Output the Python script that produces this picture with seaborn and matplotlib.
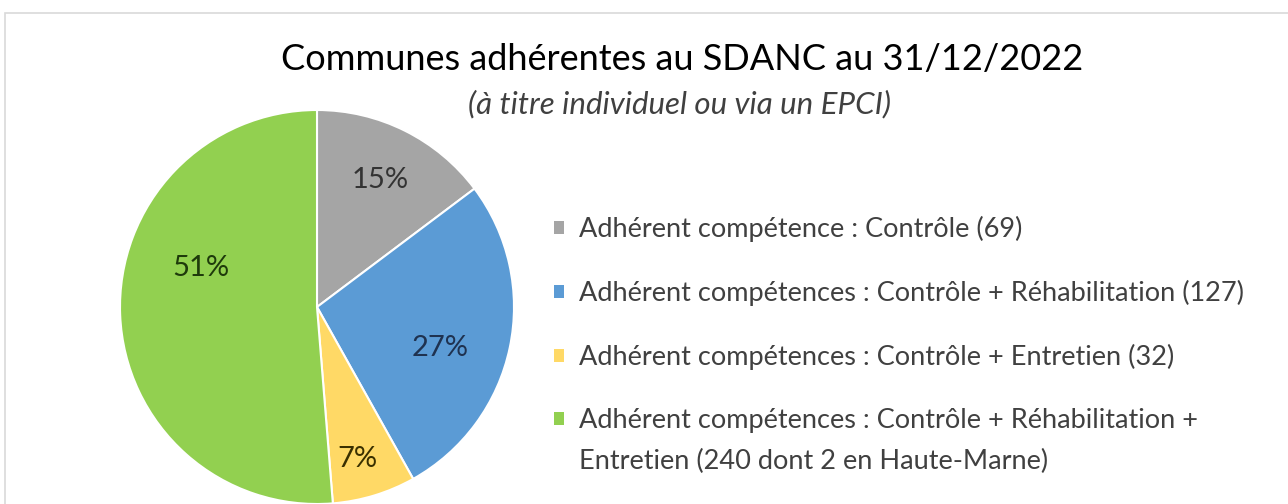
import matplotlib
matplotlib.use("Agg")
import matplotlib.pyplot as plt
import seaborn as sns
import numpy as np
from matplotlib.patches import Patch, Rectangle

sns.set_theme(style="white")
plt.rcParams['font.family'] = ['Lato', 'DejaVu Sans']

categories = [
    "Adhérent compétence : Contrôle (69)",
    "Adhérent compétences : Contrôle + Réhabilitation (127)",
    "Adhérent compétences : Contrôle + Entretien (32)",
    "Adhérent compétences : Contrôle + Réhabilitation +\nEntretien (240 dont 2 en Haute-Marne)",
]
values = [69, 127, 32, 240]
colors = ["#A5A5A5", "#5B9BD5", "#FFD966", "#92D050"]
label_colors = ["#333333", "#1F3250", "#3A3000", "#1E3A0B"]
label_dist = [0.72, 0.66, 0.80, 0.62]
label_angle_shift = [0, -6.5, -2, -21]

title = "Communes adhérentes au SDANC au 31/12/2022"
subtitle = "(à titre individuel ou via un EPCI)"

W, H = 1288, 504
fig = plt.figure(figsize=(W / 100, H / 100), dpi=100)
fig.patch.set_facecolor("white")

# frame
fig.patches.append(Rectangle((5 / W, -0.1), 1.2, (H - 13) / H + 0.1, transform=fig.transFigure,
                             fill=False, edgecolor="#D9D9D9", linewidth=1.2))

cx, cy, r = 317, 307, 197
ax = fig.add_axes([(cx - r) / W, (H - cy - r) / H, 2 * r / W, 2 * r / H])
wedges, texts, autotexts = ax.pie(
    values, colors=colors, startangle=90, counterclock=False,
    wedgeprops=dict(edgecolor="white", linewidth=1.5),
    autopct=lambda p: f"{p:.0f}%", pctdistance=0.7,
    textprops=dict(fontsize=21),
)
for w, t, d, s, c in zip(wedges, autotexts, label_dist, label_angle_shift, label_colors):
    ang = np.deg2rad((w.theta1 + w.theta2) / 2 + s)
    t.set_position((d * np.cos(ang), d * np.sin(ang)))
    t.set_color(c)
ax.set_xlim(-1, 1)
ax.set_ylim(-1, 1)
ax.set_aspect("equal")
ax.axis("off")

fig.text(682 / W, 1 - 60 / H, title, ha="center", va="center", fontsize=26, color="#000000")
fig.text(680 / W, 1 - 104 / H, subtitle, ha="center", va="center", fontsize=22.5,
         style="italic", color="#404040")

handles = [Patch(facecolor=c, edgecolor="none") for c in colors]
leg = fig.legend(handles, categories, loc="upper left", bbox_to_anchor=(543 / W, 1 - 205 / H),
                 frameon=False, fontsize=19.5, handlelength=0.38, handleheight=0.38,
                 handletextpad=0.55, labelspacing=1.4, borderaxespad=0)
for t in leg.get_texts():
    t.set_color("#404040")
line_gap_px = 41
leg.get_texts()[3].set_linespacing(1.82)

# align legend squares with the first line of multi-line labels
try:
    for col in leg._legend_handle_box.get_children():
        for row in col.get_children():
            for child in row.get_children():
                if hasattr(child, "set_multilinebaseline"):
                    child.set_multilinebaseline(False)
    for lab, h in zip(categories, leg.legend_handles):
        n_extra = lab.count("\n")
        if n_extra:
            h.set_y(h.get_y() + n_extra * line_gap_px * 72 / 100)
except Exception:
    pass

fig.savefig("out.png", dpi=100, facecolor="white")
